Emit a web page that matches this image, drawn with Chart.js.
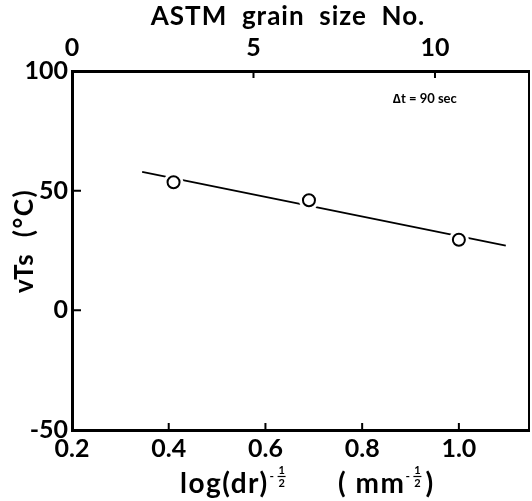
<!DOCTYPE html>
<html lang="en">
  <head>
    <meta charset="UTF-8" />
    <title>vTs vs grain size</title>
    <style>
      html, body { margin: 0; background: #fff; overflow: hidden; }
      canvas { display: block; }
    </style>
  </head>
  <body>
    <canvas id="vtsChart" width="532" height="501"></canvas>
    <script src="https://cdn.jsdelivr.net/npm/chart.js"></script>

    <script>
      // measured points
      const sizeX = [0.41, 0.69, 1.0];
      const vtsY = [53.5, 46, 29.5];

      // fitted line end points
      const fitX = [0.345, 1.097];
      const fitY = [57.9, 27.0];

      // tick labels
      const xTicks = [0.2, 0.4, 0.6, 0.8, 1.0];
      const yTicks = [-50, 0, 50, 100];
      const astmTicks = [0, 5, 10];

      const FONT = "Lato, 'Liberation Sans', sans-serif";
      const ink = "#000";

      const pts = sizeX.map((x, i) => ({ x: x, y: vtsY[i] }));
      const fit = fitX.map((x, i) => ({ x: x, y: fitY[i] }));

      function setTicks(list) {
        return function (scale) {
          scale.ticks = list.map((v) => ({ value: v }));
        };
      }

      // fixed axis box sizes, no label overhang padding
      function fixSize(w, h) {
        return function (s) {
          if (w !== null) s.width = w;
          if (h !== null) s.height = h;
          s.paddingLeft = 0;
          s.paddingRight = 0;
          s.paddingTop = 0;
          s.paddingBottom = 0;
        };
      }

      // inward tick marks + titles
      const decor = {
        id: "decor",
        afterDatasetsDraw(chart) {
          const ctx = chart.ctx;
          const a = chart.chartArea;
          const sx = chart.scales.x;
          const sy = chart.scales.y;
          const st = chart.scales.x2;
          ctx.save();
          ctx.strokeStyle = ink;
          ctx.lineWidth = 2;
          ctx.beginPath();
          xTicks.forEach((v) => {
            const p = sx.getPixelForValue(v);
            ctx.moveTo(p, a.bottom);
            ctx.lineTo(p, a.bottom - 7);
          });
          yTicks.forEach((v) => {
            const p = sy.getPixelForValue(v);
            ctx.moveTo(a.left, p);
            ctx.lineTo(a.left + 9, p);
          });
          astmTicks.forEach((v) => {
            const p = st.getPixelForValue(v);
            ctx.moveTo(p, a.top);
            ctx.lineTo(p, a.top + 7);
          });
          ctx.stroke();

          ctx.fillStyle = ink;
          ctx.textBaseline = "middle";

          // top title
          ctx.font = "bold 26px " + FONT;
          ctx.letterSpacing = "1px";
          ctx.textAlign = "center";
          ctx.fillText("ASTM  grain  size  No.", 288, 17);

          // y title
          ctx.save();
          ctx.translate(25, 241);
          ctx.rotate(-Math.PI / 2);
          ctx.font = "bold 26px " + FONT;
          ctx.letterSpacing = "1.5px";
          ctx.fillText("vTs  (°C)", 0, 0);
          ctx.restore();

          // x title with superscripts
          ctx.textAlign = "left";
          ctx.letterSpacing = "1.5px";
          const y0 = 484;
          let x = 180;
          ctx.font = "bold 28px " + FONT;
          ctx.fillText("log(dr)", x, y0);
          x += ctx.measureText("log(dr)").width + 1;
          x = half(ctx, x, y0);
          x = 338;
          ctx.font = "bold 28px " + FONT;
          ctx.fillText("( mm", x, y0);
          x += ctx.measureText("( mm").width;
          x = half(ctx, x, y0);
          ctx.font = "bold 28px " + FONT;
          ctx.fillText(")", x, y0);

          // note
          ctx.letterSpacing = "0px";
          ctx.font = "bold 13px " + FONT;
          ctx.fillText("\u2206t = 90 sec", 393, 99);
          ctx.restore();
        },
      };

      // small "-1/2" exponent
      function half(ctx, x, y0) {
        ctx.letterSpacing = "0px";
        ctx.font = "bold 12px " + FONT;
        ctx.fillText("-", x, y0 - 8);
        const cx = x + 12;
        ctx.textAlign = "center";
        ctx.font = "bold 11px " + FONT;
        ctx.fillText("1", cx, y0 - 14);
        ctx.fillText("2", cx, y0 - 1);
        ctx.lineWidth = 1.2;
        ctx.beginPath();
        ctx.moveTo(cx - 4, y0 - 7.5);
        ctx.lineTo(cx + 4, y0 - 7.5);
        ctx.stroke();
        ctx.textAlign = "left";
        ctx.letterSpacing = "1.5px";
        return cx + 8;
      }

      const tickFont = { family: FONT, size: 25, weight: "bold" };

      new Chart(document.getElementById("vtsChart"), {
        type: "scatter",
        data: {
          datasets: [
            {
              data: pts,
              pointRadius: 6,
              pointBorderWidth: 2,
              pointBorderColor: ink,
              pointBackgroundColor: "#fff",
              showLine: false,
              order: 0,
            },
            {
              // white gap around each circle
              data: pts,
              pointRadius: 10,
              pointBorderWidth: 0,
              pointBackgroundColor: "#fff",
              showLine: false,
              order: 1,
            },
            {
              data: fit,
              showLine: true,
              borderColor: ink,
              borderWidth: 1.8,
              pointRadius: 0,
              order: 2,
            },
          ],
        },
        options: {
          responsive: false,
          animation: false,
          events: [],
          layout: { padding: 0, autoPadding: false },
          plugins: { legend: { display: false }, tooltip: { enabled: false } },
          scales: {
            x: {
              type: "linear",
              position: "bottom",
              min: 0.2,
              max: 1.145,
              afterBuildTicks: setTicks(xTicks),
              afterFit: fixSize(null, 71),
              grid: { display: false, drawTicks: false },
              border: { display: true, color: ink, width: 3 },
              ticks: {
                color: ink,
                font: tickFont,
                padding: 4,
                callback: (v) => v.toFixed(1),
              },
            },
            x2: {
              type: "linear",
              position: "top",
              min: 0,
              max: 12.59,
              afterBuildTicks: setTicks(astmTicks),
              afterFit: fixSize(null, 71),
              grid: { display: false, drawTicks: false },
              border: { display: true, color: ink, width: 3 },
              ticks: { color: ink, font: tickFont, padding: 8 },
            },
            y: {
              min: -50,
              max: 100,
              afterBuildTicks: setTicks(yTicks),
              afterFit: fixSize(72, null),
              grid: { display: false, drawTicks: false },
              border: { display: true, color: ink, width: 3 },
              ticks: { color: ink, font: tickFont, padding: 4 },
            },
            y2: {
              position: "right",
              min: -50,
              max: 100,
              afterFit: fixSize(3, null),
              grid: { display: false, drawTicks: false },
              border: { display: true, color: ink, width: 2 },
              ticks: { display: false },
            },
          },
        },
        plugins: [decor],
      });
    </script>
  </body>
</html>
